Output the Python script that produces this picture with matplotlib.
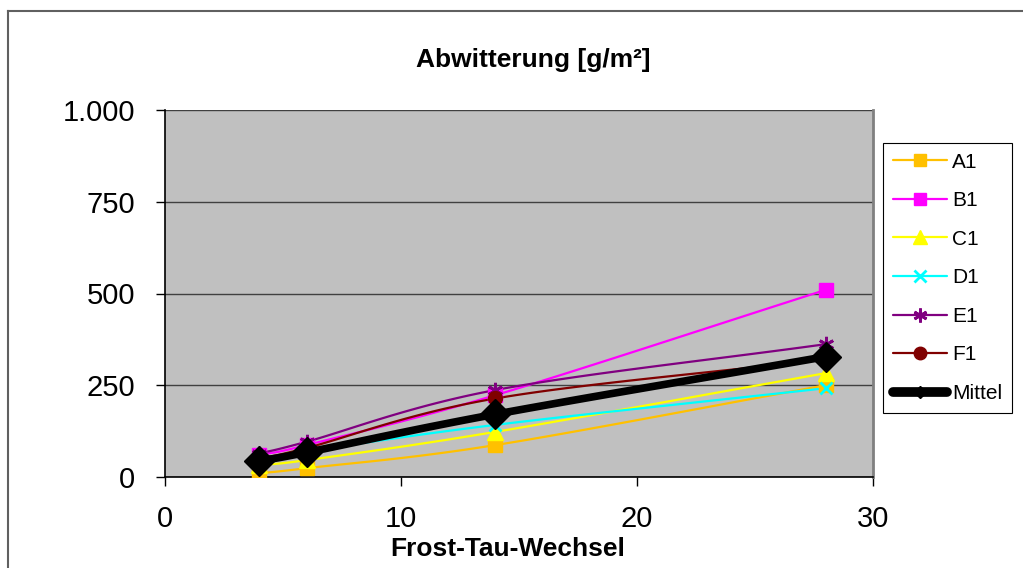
import numpy as np
import matplotlib
matplotlib.use("Agg")
import matplotlib.pyplot as plt
from matplotlib.lines import Line2D

plt.rcParams['font.family'] = ['Liberation Sans', 'DejaVu Sans']

# Frost-thaw cycles and scaling per specimen [g/m²]
cycles = [4, 6, 14, 28]
A1 = [10, 24, 87, 250]
B1 = [60, 87, 223, 510]
C1 = [33, 46, 123, 283]
D1 = [45, 69, 142, 242]
E1 = [64, 96, 237, 362]
F1 = [50, 79, 214, 321]
Mittel = [44, 67, 171, 328]

y_ticks = [0, 250, 500, 750, 1000]
y_tick_labels = ["0", "250", "500", "750", "1.000"]
x_ticks = [0, 10, 20, 30]

series = [
    ("A1", A1, "#FFC000", "s", 10, 1.6),
    ("B1", B1, "#FF00FF", "s", 10, 1.6),
    ("C1", C1, "#FFFF00", "^", 11, 1.6),
    ("D1", D1, "#00FFFF", "x", 9, 1.6),
    ("E1", E1, "#800080", (6, 2, 0), 11, 1.6),
    ("F1", F1, "#800000", "o", 10, 1.6),
    ("Mittel", Mittel, "#000000", "D", 15, 5.5),
]


def smooth(xs, ys, n=40):
    """Catmull-Rom curve through the given points (smoothed line style)."""
    xs = np.asarray(xs, float)
    ys = np.asarray(ys, float)
    px = np.concatenate([[2 * xs[0] - xs[1]], xs, [2 * xs[-1] - xs[-2]]])
    py = np.concatenate([[2 * ys[0] - ys[1]], ys, [2 * ys[-1] - ys[-2]]])
    outx, outy = [], []
    t = np.linspace(0, 1, n)
    for i in range(1, len(px) - 2):
        p0, p1, p2, p3 = (np.array([px[j], py[j]]) for j in range(i - 1, i + 3))
        tt = t[:, None]
        pts = 0.5 * ((2 * p1) + (-p0 + p2) * tt + (2 * p0 - 5 * p1 + 4 * p2 - p3) * tt**2
                     + (-p0 + 3 * p1 - 3 * p2 + p3) * tt**3)
        outx.extend(pts[:, 0])
        outy.extend(pts[:, 1])
    return np.array(outx), np.array(outy)


W, H = 1023, 568
fig = plt.figure(figsize=(W / 100, H / 100), dpi=100)

# chart-area frame (top and left edges visible)
frame_kw = dict(color="#606060", linewidth=1.5, transform=fig.transFigure)
fig.add_artist(Line2D([8 / W, 1.0], [1 - 11 / H, 1 - 11 / H], **frame_kw))
fig.add_artist(Line2D([8 / W, 8 / W], [0.0, 1 - 11 / H], **frame_kw))

ax = fig.add_axes([165 / W, 1 - 477 / H, (873 - 165) / W, (477 - 110) / H])
ax.set_facecolor("#C0C0C0")
ax.set_xlim(0, 30)
ax.set_ylim(0, 1000)

ax.set_yticks(y_ticks)
ax.set_yticklabels(y_tick_labels)
ax.set_xticks(x_ticks)
ax.tick_params(axis="both", labelsize=21, direction="out", length=6.5, width=1,
               colors="black")
ax.tick_params(axis="y", pad=15)
ax.tick_params(axis="x", pad=13.5)
ax.yaxis.grid(True, color="#404040", linewidth=1)
ax.set_axisbelow(True)
for side in ("left", "bottom"):
    ax.spines[side].set_color("black")
    ax.spines[side].set_linewidth(1.2)
ax.spines["top"].set_visible(False)
ax.spines["right"].set_color("#808080")
ax.spines["right"].set_linewidth(2)

handles = []
for name, vals, col, mk, ms, lw in series:
    is_mean = name == "Mittel"
    mew = 2 if mk in ("x", (6, 2, 0)) else 1
    sx, sy = smooth(cycles, vals)
    ax.plot(sx, sy, color=col, linewidth=lw, zorder=4 if is_mean else 3,
            solid_capstyle="round")
    ax.plot(cycles, vals, linestyle="none", marker=mk, markersize=ms, color=col,
            markeredgecolor=col, markeredgewidth=mew, zorder=6 if is_mean else 5)
    h = Line2D([], [], color=col, linewidth=7 if is_mean else lw,
               marker=mk, markersize=6 if is_mean else ms - 1,
               markeredgewidth=mew, markeredgecolor=col, label=name,
               solid_capstyle="round")
    handles.append(h)

fig.text(533 / W, 1 - 67 / H, "Abwitterung [g/m²]", ha="center", va="baseline",
         fontsize=19, fontweight="bold")
fig.text(508 / W, 1 - 556 / H, "Frost-Tau-Wechsel", ha="center", va="baseline",
         fontsize=19, fontweight="bold")

leg = fig.legend(handles=handles, loc="upper left",
                 bbox_to_anchor=(883 / W, 1 - 143 / H),
                 fontsize=15, frameon=True, fancybox=False, edgecolor="black",
                 framealpha=1, handlelength=2.6, labelspacing=0.94,
                 borderpad=0.46, handletextpad=0.25, borderaxespad=0)
leg.get_frame().set_linewidth(0.8)

fig.savefig("out.png", dpi=100)
